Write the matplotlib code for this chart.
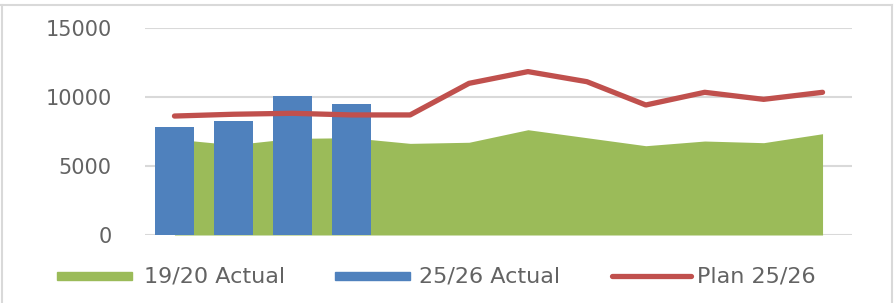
import matplotlib.pyplot as plt
import numpy as np
from matplotlib.patches import Rectangle
from matplotlib.lines import Line2D

# DATA (12 months, no x labels shown on the chart)
months = ["Apr", "May", "Jun", "Jul", "Aug", "Sep", "Oct", "Nov", "Dec", "Jan", "Feb", "Mar"]
actual_1920 = [6950, 6540, 7000, 7050, 6640, 6720, 7630, 7050, 6470, 6810, 6690, 7340]
actual_2526 = [7800, 8240, 10070, 9490]
plan_2526 = [8620, 8750, 8820, 8700, 8700, 10990, 11840, 11110, 9420, 10340, 9830, 10340]
y_ticks = [0, 5000, 10000, 15000]
labels = ["19/20 Actual", "25/26 Actual", "Plan 25/26"]

green = '#9BBB59'
blue = '#4F81BD'
red = '#C0504D'
grey_txt = '#636363'
grid_col = '#D9D9D9'

W, H = 894, 303
fig = plt.figure(figsize=(W/100, H/100), dpi=100)
ax = fig.add_axes([145/W, 1 - 235/H, 707/W, 207/H])

x = np.arange(len(months))
ax.fill_between(x, 0, actual_1920, color=green, linewidth=0, zorder=1)
ax.bar(x[:len(actual_2526)], actual_2526, width=0.66, color=blue, zorder=2)
ax.plot(x, plan_2526, color=red, linewidth=3.8, solid_capstyle='round', zorder=3)

ax.set_xlim(-0.5, len(months) - 0.5)
ax.set_ylim(0, 15000)
ax.set_yticks(y_ticks)
ax.set_yticklabels([str(t) for t in y_ticks], fontsize=15, color=grey_txt)
ax.set_xticks([])
ax.tick_params(axis='y', length=0, pad=24)
ax.yaxis.grid(True, color=grid_col, linewidth=1.5)
ax.set_axisbelow(True)
for s in ax.spines.values():
    s.set_visible(False)

# chart border
fig.add_artist(Line2D([1/W, 892/W], [1 - 5/H, 1 - 5/H], color=grid_col, lw=1.5))
fig.add_artist(Line2D([1.5/W, 1.5/W], [0, 1 - 5/H], color=grid_col, lw=1.5))
fig.add_artist(Line2D([892/W, 892/W], [0, 1 - 5/H], color=grid_col, lw=1.5))

# legend
ly = 1 - 276/H
fig.add_artist(Rectangle((57/W, 1 - 280/H), 75/W, 8/H, color=green))
fig.text(144/W, ly, labels[0], fontsize=16, color=grey_txt, va='center')
fig.add_artist(Rectangle((335/W, 1 - 280/H), 75/W, 8/H, color=blue))
fig.text(419/W, ly, labels[1], fontsize=16, color=grey_txt, va='center')
fig.add_artist(Line2D([612/W, 691/W], [ly, ly], color=red, lw=3.8, solid_capstyle='round'))
fig.text(697/W, ly, labels[2], fontsize=16, color=grey_txt, va='center')

fig.savefig('out.png', dpi=100)
